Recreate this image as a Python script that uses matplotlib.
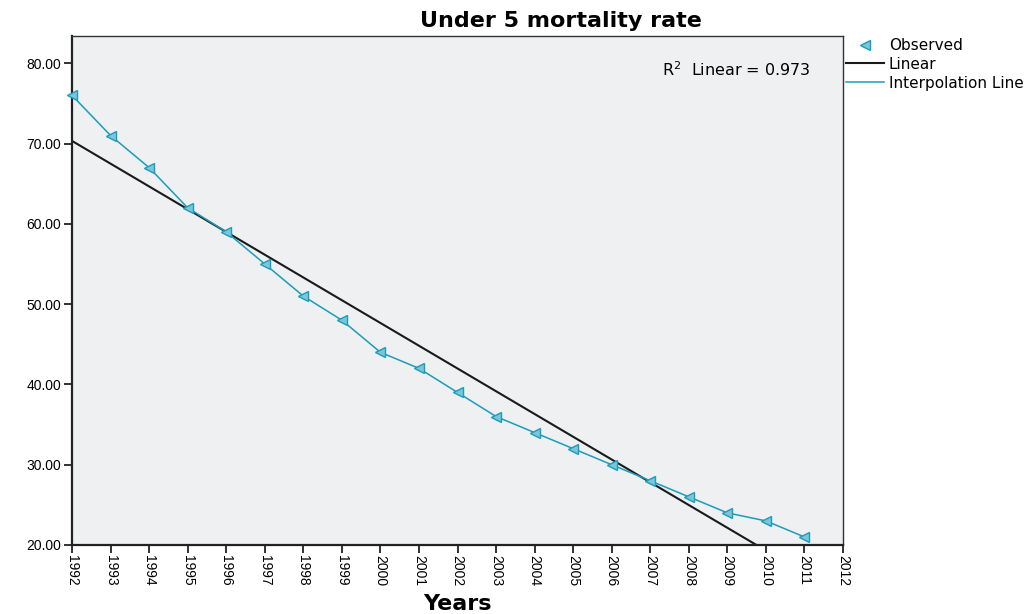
import numpy as np
import matplotlib
matplotlib.use("Agg")
import matplotlib.pyplot as plt

plt.rcParams['font.family'] = ['Liberation Sans', 'DejaVu Sans']

# Under-5 mortality rate
years = np.arange(1992, 2012)
rate = [76, 71, 67, 62, 59, 55, 51, 48, 44, 42, 39, 36, 34, 32, 30, 28, 26, 24, 23, 21]
r2_text = "R$^2$  Linear = 0.973"

teal = '#1b9cbc'
wide = ['DejaVu Sans']

fig = plt.figure(figsize=(10.35, 6.14), dpi=100)
ax = fig.add_axes([0.0696, 0.1124, 0.7449, 0.829])
ax.set_facecolor('#eef0f2')

# linear fit through observed points
slope, intercept = np.polyfit(years, rate, 1)
xs = np.array([1992, 2012])
ax.plot(xs, slope * xs + intercept, color='#1a1a1a', lw=1.5, label='Linear', zorder=2)
ax.plot(years, rate, color=teal, lw=1.1, label='Interpolation Line', zorder=3)
ax.plot(years, rate, ls='none', marker='<', ms=7, mfc='#7cc6d8', mec=teal, mew=1.0,
        label='Observed', zorder=4, clip_on=False)

ax.set_xlim(1992, 2012)
ax.set_ylim(20, 83.4)
ax.set_xticks(np.arange(1992, 2013))
ax.set_xticklabels([str(y) for y in range(1992, 2013)], rotation=270, fontsize=10)
ax.set_yticks(np.arange(20, 81, 10))
ax.set_yticklabels([f"{v:.2f}" for v in range(20, 81, 10)], fontsize=10)
ax.tick_params(length=6, width=1.3, color='#222222', pad=2)
ax.tick_params(axis='x', pad=1)

for s in ['left', 'bottom']:
    ax.spines[s].set_linewidth(1.6)
    ax.spines[s].set_color('#222222')
for s in ['top', 'right']:
    ax.spines[s].set_linewidth(1.0)
    ax.spines[s].set_color('#333333')

fig.text(561 / 1035, 1 - 21 / 614, "Under 5 mortality rate", ha='center', va='center',
         fontsize=16, fontweight='bold', family=wide)
fig.text(457 / 1035, 1 - 604 / 614, "Years", ha='center', va='center',
         fontsize=16, fontweight='bold', family=wide)

ax.text(0.958, 0.953, r2_text, transform=ax.transAxes, ha='right', va='top',
        fontsize=11.5, family=wide)

handles, labels = ax.get_legend_handles_labels()
order = [2, 0, 1]
fig.legend([handles[i] for i in order], [labels[i] for i in order],
           loc='upper left', bbox_to_anchor=(846 / 1035, 1 - 38 / 614), frameon=False,
           prop={'family': wide, 'size': 11}, handlelength=2.5, handletextpad=0.3,
           labelspacing=0.25, borderaxespad=0, borderpad=0)

fig.savefig("out.png", dpi=100)
